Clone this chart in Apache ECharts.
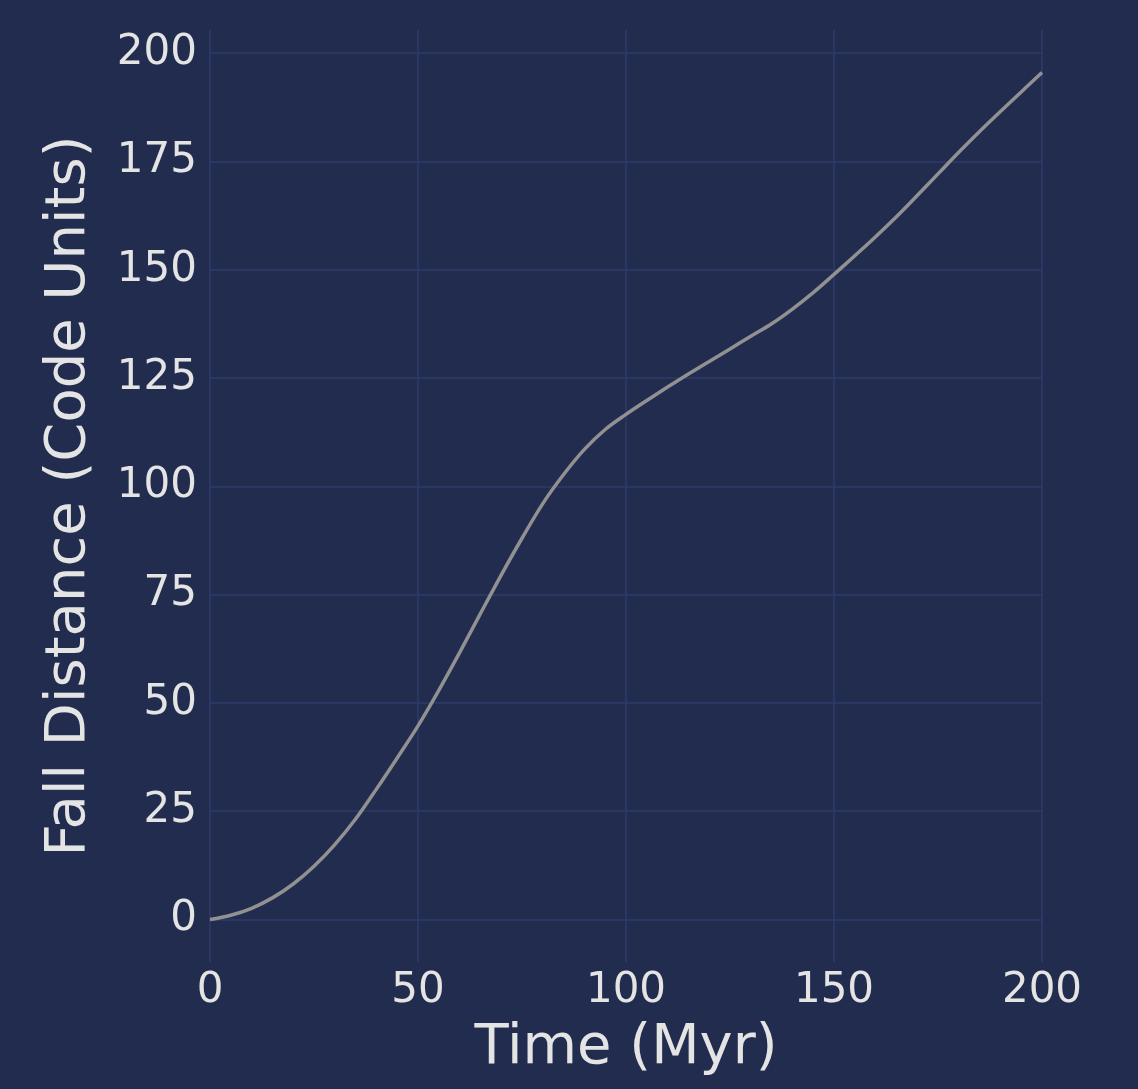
<!DOCTYPE html>
<html>
<head>
<meta charset="utf-8">
<script src="https://cdn.jsdelivr.net/npm/echarts@6/dist/echarts.min.js"></script>
<style>
html,body{margin:0;padding:0;background:#212c4f;}
#chart{width:1138px;height:1089px;}
</style>
</head>
<body>
<div id="chart"></div>
<script>
const timeMyr = [0,5,10,15,20,25,30,35,40,45,50,55,60,65,70,75,80,85,90,95,100,105,110,115,120,125,130,135,140,145,150,155,160,165,170,175,180,185,190,195,200];
const fallDistance = [0,1.0,2.6,5.0,8.2,12.3,17.3,23.2,30.1,37.3,44.7,52.9,61.6,70.6,79.5,88.0,96.0,102.7,108.5,113.1,116.6,119.8,122.9,125.9,128.8,131.7,134.6,137.5,140.9,144.7,148.9,153.2,157.6,162.2,167.1,172.1,177.1,181.9,186.5,191.0,195.5];
const xTicks = [0,50,100,150,200];
const yTicks = [0,25,50,75,100,125,150,175,200];

const chart = echarts.init(document.getElementById('chart'), null, {renderer:'canvas'});
const font = 'DejaVu Sans';
const textColor = '#e4e4e4';
const gridColor = '#2d3b69';
chart.setOption({
  backgroundColor: '#212c4f',
  animation: false,
  grid: {left: 210, right: 96, top: 30, bottom: 127, containLabel: false},
  xAxis: {
    type: 'value', min: 0, max: 200, interval: 50,
    name: 'Time (Myr)', nameLocation: 'middle', nameGap: 58,
    nameTextStyle: {color: textColor, fontFamily: font, fontSize: 56},
    axisLine: {show: false}, axisTick: {show: false},
    axisLabel: {color: textColor, fontFamily: font, fontSize: 42, margin: 8},
    splitLine: {show: true, lineStyle: {color: gridColor, width: 1.5}}
  },
  yAxis: {
    type: 'value', min: -9.8, max: 205.3,
    name: 'Fall Distance (Code Units)', nameLocation: 'middle', nameGap: 113,
    nameTextStyle: {color: textColor, fontFamily: font, fontSize: 56},
    axisLine: {show: false},
    axisTick: {show: false, customValues: yTicks},
    axisLabel: {color: textColor, fontFamily: font, fontSize: 42, margin: 13, customValues: yTicks},
    splitLine: {show: true, customValues: yTicks, lineStyle: {color: gridColor, width: 1.5}}
  },
  series: [{
    type: 'line',
    data: timeMyr.map((t, i) => [t, fallDistance[i]]),
    smooth: 0.35,
    showSymbol: false,
    lineStyle: {color: '#919191', width: 3.5},
    clip: false
  }]
});
</script>
</body>
</html>
